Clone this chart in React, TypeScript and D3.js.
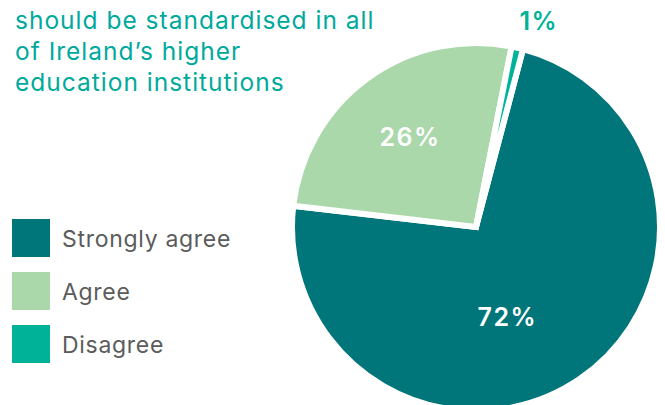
import { useEffect, useRef } from 'react';
import * as d3 from 'd3';

// chart data
const categories = ['Strongly agree', 'Agree', 'Disagree'];
const values = [72, 26, 1];
const colors = ['#00767a', '#abd8ab', '#00b398'];
const valueLabels = ['72%', '26%', '1%'];
const titleLines = ['should be standardised in all', 'of Ireland’s higher', 'education institutions'];

const App = () => {
    const ref = useRef<SVGSVGElement | null>(null);

    useEffect(() => {
        if (!ref.current) return;
        const width = 665;
        const height = 405;
        const svg = d3.select(ref.current)
            .attr('width', width)
            .attr('height', height);
        svg.selectAll('*').remove();

        // title (first line is cut off in the source)
        svg.append('g')
            .selectAll('text')
            .data(titleLines)
            .enter()
            .append('text')
            .attr('x', 15)
            .attr('y', (_, i) => 28.5 + i * 31)
            .attr('fill', '#00a99d')
            .attr('font-family', 'Inter, sans-serif')
            .attr('font-size', 24.5)
            .attr('letter-spacing', 1)
            .text(d => d);

        // legend
        const legend = svg.append('g').attr('transform', 'translate(12, 219)');
        const item = legend.selectAll('g')
            .data(categories)
            .enter()
            .append('g')
            .attr('transform', (_, i) => `translate(0, ${i * 53})`);
        item.append('rect')
            .attr('width', 38)
            .attr('height', 38)
            .attr('fill', (_, i) => colors[i]);
        item.append('text')
            .attr('x', 50)
            .attr('y', 27.5)
            .attr('fill', '#5b5b5b')
            .attr('font-family', 'Inter, sans-serif')
            .attr('font-size', 23)
            .attr('letter-spacing', 0.7)
            .text(d => d);

        // pie
        const cx = 476;
        const cy = 227;
        const radius = 184;
        const start = 14.8 * Math.PI / 180;
        const pie = d3.pie<number>()
            .sort(null)
            .startAngle(start)
            .endAngle(start + Math.PI * 2);
        const arcs = pie(values);
        const arc = d3.arc<d3.PieArcDatum<number>>()
            .innerRadius(0)
            .outerRadius(radius);

        const g = svg.append('g').attr('transform', `translate(${cx}, ${cy})`);
        g.selectAll('path')
            .data(arcs)
            .enter()
            .append('path')
            .attr('d', arc)
            .attr('fill', (_, i) => colors[i])
            .attr('stroke', '#fff')
            .attr('stroke-width', 6)
            .attr('stroke-linejoin', 'miter');

        // value labels
        const labelRadius = [95, 112, 215];
        const labelShift = [15, 0, 4];
        const labelColor = ['#fff', '#fff', '#00b398'];
        g.selectAll('.val')
            .data(arcs)
            .enter()
            .append('text')
            .attr('class', 'val')
            .attr('transform', (d, i) => {
                const a = (d.startAngle + d.endAngle) / 2 + labelShift[i] * Math.PI / 180;
                const r = labelRadius[i];
                return `translate(${r * Math.sin(a)}, ${-r * Math.cos(a)})`;
            })
            .attr('text-anchor', 'middle')
            .attr('dy', '0.36em')
            .attr('fill', (_, i) => labelColor[i])
            .attr('font-family', 'Inter, sans-serif')
            .attr('font-weight', 600)
            .attr('font-size', 25)
            .attr('letter-spacing', 1.5)
            .text((_, i) => valueLabels[i]);
    }, []);

    return (
        <svg ref={ref} style={{ position: 'absolute', left: 0, top: 0, background: '#fff' }}></svg>
    );
};

export default App;
